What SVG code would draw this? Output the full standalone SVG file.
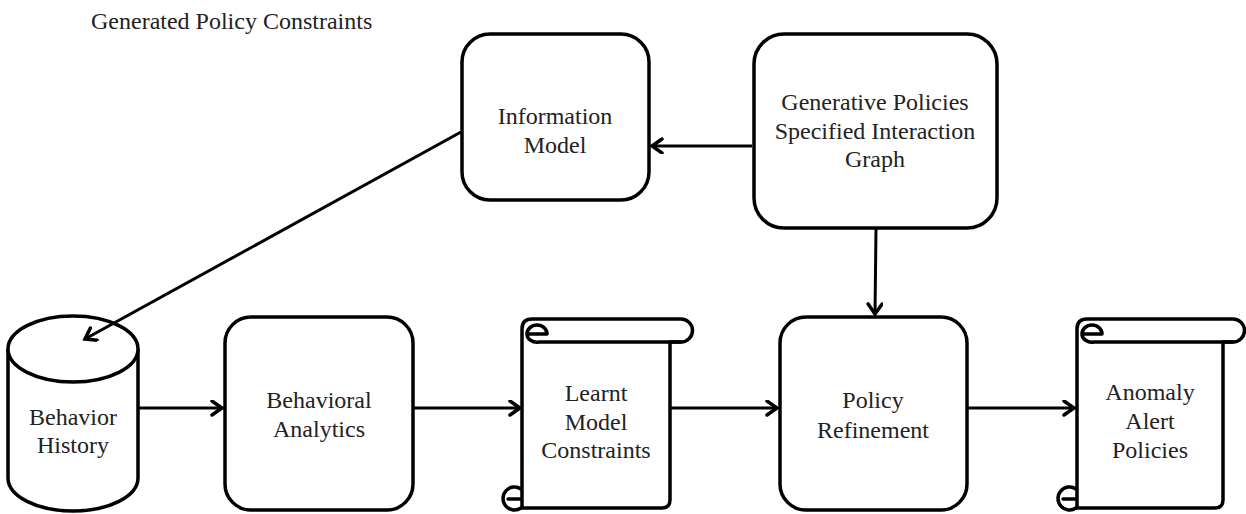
<svg xmlns="http://www.w3.org/2000/svg" width="1246" height="514" viewBox="0 0 1246 514">
  <style>
    .shape { fill: #ffffff; stroke: #000000; stroke-width: 3.5; stroke-linejoin: round; }
    .line { fill: none; stroke: #000000; stroke-width: 3.5; stroke-linecap: round; stroke-linejoin: round; }
    .edge { fill: none; stroke: #000000; stroke-width: 3; }
    .label { font-family: "Liberation Serif", "Times New Roman", serif; font-size: 24px; fill: #222222; text-anchor: middle; }
    .title { font-family: "Liberation Serif", "Times New Roman", serif; font-size: 24px; fill: #222222; }
  </style>
  <defs>
    <marker id="arrow" markerUnits="userSpaceOnUse" markerWidth="20" markerHeight="20" refX="12" refY="8" orient="auto">
      <path d="M 2 1 L 12 8 L 2 15" fill="none" stroke="#000000" stroke-width="3.5" stroke-linecap="round" stroke-linejoin="miter"/>
    </marker>
  </defs>

  <rect width="1246" height="514" fill="#ffffff"/>

  <text class="title" x="91" y="29">Generated Policy Constraints</text>

  <!-- Information Model -->
  <g id="information-model">
    <rect class="shape" x="462" y="34" width="187" height="166" rx="28" ry="28"/>
    <text class="label" x="555" y="124">Information</text>
    <text class="label" x="555" y="153">Model</text>
  </g>

  <!-- Generative Policies Specified Interaction Graph -->
  <g id="generative-policies">
    <rect class="shape" x="754" y="34" width="243" height="194" rx="30" ry="30"/>
    <text class="label" x="875" y="110">Generative Policies</text>
    <text class="label" x="875" y="139">Specified Interaction</text>
    <text class="label" x="875" y="167">Graph</text>
  </g>

  <!-- Behavior History (data store) -->
  <g id="behavior-history">
    <path class="shape" d="M 8 349 L 8 478 A 65 33 0 0 0 138 478 L 138 349"/>
    <ellipse class="shape" cx="73" cy="349" rx="65" ry="33"/>
    <text class="label" x="73" y="425">Behavior</text>
    <text class="label" x="73" y="453">History</text>
  </g>

  <!-- Behavioral Analytics -->
  <g id="behavioral-analytics">
    <rect class="shape" x="225" y="317" width="188" height="193" rx="26" ry="26"/>
    <text class="label" x="319" y="408">Behavioral</text>
    <text class="label" x="319" y="437">Analytics</text>
  </g>

  <!-- Learnt Model Constraints (scroll) -->
  <g id="learnt-model-constraints">
    <path class="shape" d="M 522 508 L 522 329 Q 522 319 532 319 L 681 319 A 11.5 11.5 0 0 1 681 342 L 670 342 L 670 500 Q 670 508 662 508 Z"/>
    <path class="line" d="M 527 334 L 547 334 A 10 9 0 0 0 527 334 A 10 8 0 0 0 539 342 L 681 342"/>
    <path class="line" d="M 521 489 A 11.5 11.5 0 1 0 521 508 M 508 499 L 521 499"/>
    <text class="label" x="596" y="401">Learnt</text>
    <text class="label" x="596" y="430">Model</text>
    <text class="label" x="596" y="458">Constraints</text>
  </g>

  <!-- Policy Refinement -->
  <g id="policy-refinement">
    <rect class="shape" x="780" y="317" width="187" height="193" rx="26" ry="26"/>
    <text class="label" x="873" y="408">Policy</text>
    <text class="label" x="873" y="438">Refinement</text>
  </g>

  <!-- Anomaly Alert Policies (scroll) -->
  <g id="anomaly-alert-policies">
    <path class="shape" d="M 1077 508 L 1077 329 Q 1077 319 1087 319 L 1233 319 A 11.5 11.5 0 0 1 1233 342 L 1223 342 L 1223 500 Q 1223 508 1215 508 Z"/>
    <path class="line" d="M 1082 334 L 1102 334 A 10 9 0 0 0 1082 334 A 10 8 0 0 0 1094 342 L 1233 342"/>
    <path class="line" d="M 1076 489 A 11.5 11.5 0 1 0 1076 508 M 1063 499 L 1076 499"/>
    <text class="label" x="1150" y="400">Anomaly</text>
    <text class="label" x="1150" y="429">Alert</text>
    <text class="label" x="1150" y="458">Policies</text>
  </g>

  <!-- connectors, drawn over the shapes -->
  <g id="connectors">
    <line class="edge" x1="752" y1="146" x2="652" y2="146" marker-end="url(#arrow)"/>
    <line class="edge" x1="461" y1="132" x2="85" y2="339" marker-end="url(#arrow)"/>
    <line class="edge" x1="876" y1="229" x2="875" y2="314" marker-end="url(#arrow)"/>
    <line class="edge" x1="139" y1="408" x2="222" y2="408" marker-end="url(#arrow)"/>
    <line class="edge" x1="414" y1="408" x2="520" y2="408" marker-end="url(#arrow)"/>
    <line class="edge" x1="671" y1="408" x2="777" y2="408" marker-end="url(#arrow)"/>
    <line class="edge" x1="968" y1="408" x2="1074" y2="408" marker-end="url(#arrow)"/>
  </g>
</svg>
